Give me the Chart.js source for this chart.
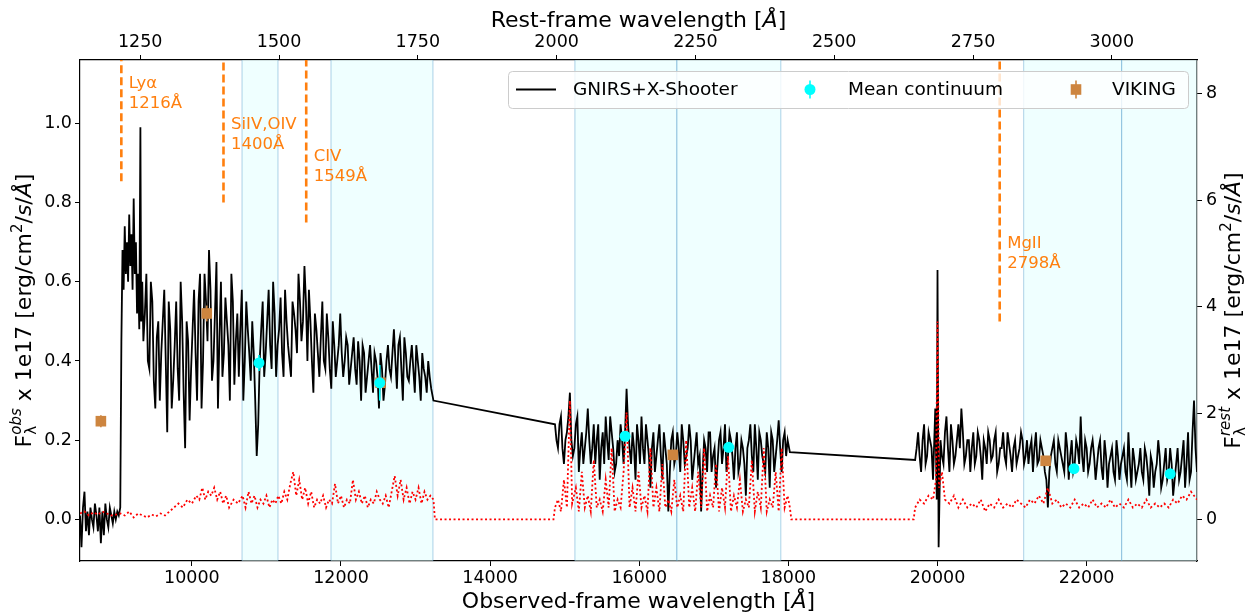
<!DOCTYPE html>
<html>
<head>
<meta charset="utf-8">
<script src="https://cdn.jsdelivr.net/npm/chart.js@4/dist/chart.umd.min.js"></script>
<style>
  html, body { margin: 0; padding: 0; background: #fff; }
  #wrap { width: 1252px; height: 615px; }
</style>
</head>
<body>
<div id="wrap"><canvas id="chart" width="1252" height="615"></canvas></div>
<script>
const FONT = '"DejaVu Sans", sans-serif';
const Z1 = 7.446;            // 1 + z
const X_MIN = 8500, X_MAX = 23480;
const Y_MIN = -0.105, Y_MAX = 1.160;

// axis ticks
const obsTicks = [10000, 12000, 14000, 16000, 18000, 20000, 22000];
const restTicks = [1250, 1500, 1750, 2000, 2250, 2500, 2750, 3000];
const fluxTicks = [0, 0.2, 0.4, 0.6, 0.8, 1.0];
const restFluxTicks = [0, 2, 4, 6, 8];

// continuum windows (observed A)
const bandEdges = [[10673, 11155], [11866, 13233], [15137, 16504], [16504, 17898], [21155, 22469], [22469, 23700]];

// emission lines
const lineNames = ['Lyα', 'SiIV,OIV', 'CIV', 'MgII'];
const lineRest = [1216, 1400, 1549, 2798];
const lineTags = ['1216Å', '1400Å', '1549Å', '2798Å'];
const lineBottom = [0.854, 0.80, 0.75, 0.50];
const lineLabelY = [1.09, 0.985, 0.905, 0.685];

// mean continuum points
const contWave = [10900, 12520, 15810, 17200, 21830, 23120];
const contFlux = [0.395, 0.345, 0.210, 0.182, 0.128, 0.115];
const contErr = [0.02, 0.045, 0.012, 0.012, 0.01, 0.01];

// VIKING photometry
const vikWave = [8780, 10200, 12530, 16450, 21450];
const vikFlux = [0.248, 0.520, 0.345, 0.163, 0.148];
const vikErr = [0.015, 0.02, 0.01, 0.012, 0.01];

// spectrum (wavelength, flux) - X-Shooter VIS/NIR part
const specA = [
  [8500,0.01],[8520,-0.07],[8540,0.03],[8560,0.07],[8580,-0.03],[8600,0.02],[8620,-0.04],[8640,0.03],
  [8660,0.0],[8680,-0.02],[8700,0.04],[8720,0.01],[8740,-0.03],[8760,0.03],[8780,-0.06],[8800,0.02],
  [8820,-0.04],[8840,0.04],[8860,0.0],[8880,-0.02],[8900,0.03],[8920,0.01],[8940,-0.01],[8960,0.02],
  [8980,0.0],[9000,0.02],[9020,0.01],[9040,0.03],
  [9055,0.45],[9070,0.68],[9085,0.58],[9100,0.74],[9115,0.62],[9130,0.70],[9145,0.60],[9160,0.77],
  [9175,0.64],[9190,0.72],[9205,0.58],[9220,0.81],[9235,0.62],[9250,0.70],[9265,0.52],[9280,0.62],
  [9295,0.48],[9310,0.99],[9320,0.50],[9335,0.60],
  [9350,0.45],[9390,0.62],[9430,0.38],[9470,0.55],[9510,0.28],[9550,0.50],[9590,0.42],[9630,0.58],
  [9670,0.22],[9710,0.48],[9750,0.35],[9790,0.55],[9830,0.30],[9870,0.50],[9910,0.18],[9950,0.45],
  [9990,0.38],[10030,0.58],[10070,0.30],[10110,0.62],[10150,0.40],[10190,0.55],[10230,0.68],[10270,0.35],
  [10310,0.52],[10350,0.28],[10390,0.60],[10430,0.42],[10470,0.50],[10510,0.30],[10550,0.55],[10590,0.45],
  [10630,0.36],[10670,0.58],[10710,0.40],[10750,0.48],[10790,0.35],[10830,0.42],[10870,0.16],[10910,0.40],
  [10950,0.55],[10990,0.42],[11030,0.58],[11070,0.38],[11110,0.52],[11150,0.44],[11190,0.56],[11230,0.36],
  [11270,0.50],[11310,0.40],[11350,0.55],[11390,0.48],[11430,0.62],[11470,0.45],[11510,0.64],[11550,0.40],
  [11590,0.50],[11630,0.32],[11670,0.48],[11710,0.36],[11750,0.55],[11790,0.38],[11830,0.46],[11870,0.33],
  [11910,0.44],[11950,0.40],[11990,0.52],[12030,0.36],[12070,0.46],[12110,0.34],[12150,0.42],[12190,0.38],
  [12230,0.45],[12270,0.30],[12310,0.42],[12350,0.36],[12390,0.44],[12430,0.32],[12470,0.40],[12510,0.28],
  [12550,0.38],[12590,0.34],[12630,0.44],[12670,0.36],[12710,0.48],[12750,0.33],[12790,0.46],[12830,0.30],
  [12870,0.42],[12910,0.35],[12950,0.44],[12990,0.32],[13030,0.40],[13070,0.30],[13110,0.38],[13150,0.32],
  [13190,0.36],[13240,0.30]
];
// extra samples read between the ones above
const specAmid = [
  [9370,0.52],[9410,0.40],[9450,0.60],[9490,0.35],[9530,0.46],[9570,0.30],[9610,0.50],[9650,0.40],
  [9690,0.55],[9730,0.28],[9770,0.44],[9810,0.38],[9850,0.60],[9890,0.32],[9930,0.50],[9970,0.25],
  [10010,0.48],[10050,0.42],[10090,0.55],[10130,0.28],[10170,0.62],[10210,0.45],[10250,0.58],[10290,0.40],
  [10330,0.65],[10370,0.46],[10410,0.36],[10450,0.56],[10490,0.44],[10530,0.62],[10570,0.34],[10610,0.52],
  [10650,0.48],[10690,0.30],[10730,0.55],[10770,0.42],[10810,0.50],[10850,0.30],[10890,0.24],[10930,0.48],
  [10970,0.36],[11010,0.50],[11050,0.44],[11090,0.60],[11130,0.36],[11170,0.48],[11210,0.42],[11250,0.58],
  [11290,0.44],[11330,0.36],[11370,0.52],[11410,0.42],[11450,0.55],[11490,0.50],[11530,0.55],[11570,0.58],
  [11610,0.40],[11650,0.52],[11690,0.42],[11730,0.46],[11770,0.40],[11810,0.52],[11850,0.38],[11890,0.50],
  [11930,0.36],[11970,0.44],[12010,0.42],[12050,0.40],[12090,0.44],[12130,0.38],[12170,0.46],[12210,0.34],
  [12250,0.40],[12290,0.44],[12330,0.32],[12370,0.40],[12410,0.38],[12450,0.42],[12490,0.36],[12530,0.42],
  [12570,0.30],[12610,0.40],[12650,0.38],[12690,0.42],[12730,0.40],[12770,0.44],[12810,0.38],[12850,0.46],
  [12890,0.36],[12930,0.40],[12970,0.38],[13010,0.44],[13050,0.36],[13090,0.42],[13130,0.36],[13170,0.40],
  [13210,0.33]
];
// GNIRS H band
const specB = [
  [14870,0.24],[14910,0.18],[14950,0.26],[14990,0.14],[15030,0.22],[15070,0.32],[15110,0.16],[15150,0.24],
  [15190,0.12],[15230,0.22],[15270,0.18],[15310,0.28],[15350,0.14],[15390,0.24],[15430,0.20],[15470,0.10],
  [15510,0.22],[15550,0.26],[15590,0.15],[15630,0.22],[15670,0.12],[15710,0.20],[15750,0.24],[15790,0.14],
  [15830,0.33],[15870,0.18],[15910,0.22],[15950,0.10],[15990,0.20],[16030,0.26],[16070,0.14],[16110,0.20],
  [16150,0.08],[16190,0.22],[16230,0.16],[16270,0.24],[16310,0.10],[16350,0.18],[16390,0.02],[16430,0.20],
  [16470,0.14],[16510,0.22],[16550,0.12],[16590,0.20],[16630,0.16],[16670,0.24],[16710,0.10],[16750,0.18],
  [16790,0.14],[16830,0.02],[16870,0.20],[16910,0.12],[16950,0.22],[16990,0.16],[17030,0.08],[17070,0.20],
  [17110,0.14],[17150,0.24],[17190,0.16],[17230,0.20],[17270,0.10],[17310,0.22],[17350,0.14],[17390,0.18],
  [17430,0.06],[17470,0.20],[17510,0.16],[17550,0.24],[17590,0.10],[17630,0.20],[17670,0.14],[17710,0.22],
  [17750,0.08],[17790,0.20],[17830,0.16],[17870,0.25],[17910,0.12],[17950,0.22],[17990,0.20],[18020,0.17]
];
const specBmid = [
  [14890,0.20],[14930,0.24],[14970,0.18],[15010,0.20],[15050,0.26],[15090,0.20],[15130,0.18],[15170,0.26],
  [15210,0.18],[15250,0.14],[15290,0.22],[15330,0.20],[15370,0.18],[15410,0.14],[15450,0.24],[15490,0.18],
  [15530,0.14],[15570,0.20],[15610,0.26],[15650,0.18],[15690,0.14],[15730,0.16],[15770,0.20],[15810,0.22],
  [15850,0.24],[15890,0.14],[15930,0.18],[15970,0.24],[16010,0.14],[16050,0.18],[16090,0.24],[16130,0.16],
  [16170,0.18],[16210,0.12],[16250,0.20],[16290,0.16],[16330,0.22],[16370,0.14],[16410,0.12],[16450,0.22],
  [16490,0.16],[16530,0.18],[16570,0.24],[16610,0.14],[16650,0.18],[16690,0.20],[16730,0.14],[16770,0.22],
  [16810,0.16],[16850,0.12],[16890,0.18],[16930,0.22],[16970,0.12],[17010,0.18],[17050,0.14],[17090,0.22],
  [17130,0.18],[17170,0.12],[17210,0.22],[17250,0.16],[17290,0.18],[17330,0.12],[17370,0.20],[17410,0.14],
  [17450,0.18],[17490,0.24],[17530,0.12],[17570,0.18],[17610,0.22],[17650,0.16],[17690,0.12],[17730,0.18],
  [17770,0.22],[17810,0.12],[17850,0.20],[17890,0.18],[17930,0.20],[17970,0.16]
];
// GNIRS K band
const specC = [
  [19700,0.15],[19740,0.22],[19780,0.12],[19820,0.24],[19860,0.16],[19900,0.20],[19940,0.10],[19970,0.28],
  [19990,0.05],[20000,0.63],[20015,-0.07],[20040,0.20],[20080,0.14],[20120,0.26],[20160,0.12],[20200,0.20],
  [20240,0.16],[20280,0.24],[20320,0.28],[20360,0.14],[20400,0.20],[20440,0.12],[20480,0.22],[20520,0.16],
  [20560,0.20],[20600,0.10],[20640,0.18],[20680,0.22],[20720,0.15],[20760,0.20],[20800,0.12],[20840,0.18],
  [20880,0.22],[20920,0.14],[20960,0.19],[21000,0.12],[21040,0.20],[21080,0.16],[21120,0.22],[21160,0.14],
  [21200,0.20],[21240,0.18],[21280,0.12],[21320,0.22],[21360,0.15],[21400,0.18],[21440,0.12],[21480,0.03],
  [21520,0.16],[21560,0.20],[21600,0.12],[21640,0.18],[21680,0.14],[21720,0.22],[21760,0.10],[21800,0.20],
  [21840,0.14],[21880,0.18],[21920,0.26],[21960,0.12],[22000,0.18],[22040,0.14],[22080,0.20],[22120,0.10],
  [22160,0.18],[22200,0.13],[22240,0.20],[22280,0.08],[22320,0.16],[22360,0.12],[22400,0.20],[22440,0.10],
  [22480,0.16],[22520,0.12],[22560,0.22],[22600,0.08],[22640,0.15],[22680,0.12],[22720,0.18],[22760,0.10],
  [22800,0.16],[22840,0.06],[22880,0.14],[22920,0.12],[22960,0.20],[23000,0.08],[23040,0.14],[23080,0.10],
  [23120,0.18],[23160,0.06],[23200,0.14],[23240,0.10],[23280,0.16],[23320,0.08],[23360,0.22],[23400,0.12],
  [23440,0.30],[23480,0.12]
];
const specCmid = [
  [19720,0.18],[19760,0.16],[19800,0.20],[19840,0.14],[19880,0.22],[19920,0.18],
  [20060,0.16],[20100,0.22],[20140,0.18],[20180,0.24],[20220,0.14],[20260,0.20],[20300,0.18],[20340,0.22],
  [20380,0.16],[20420,0.20],[20460,0.18],[20500,0.14],[20540,0.22],[20580,0.16],[20620,0.20],[20660,0.14],
  [20700,0.20],[20740,0.16],[20780,0.22],[20820,0.14],[20860,0.18],[20900,0.16],[20940,0.22],[20980,0.16],
  [21020,0.18],[21060,0.14],[21100,0.18],[21140,0.20],[21180,0.16],[21220,0.14],[21260,0.20],[21300,0.18],
  [21340,0.14],[21380,0.20],[21420,0.16],[21460,0.10],[21500,0.12],[21540,0.18],[21580,0.14],[21620,0.20],
  [21660,0.16],[21700,0.12],[21740,0.18],[21780,0.16],[21820,0.12],[21860,0.20],[21900,0.14],[21940,0.16],
  [21980,0.20],[22020,0.12],[22060,0.18],[22100,0.16],[22140,0.14],[22180,0.20],[22220,0.10],[22260,0.16],
  [22300,0.14],[22340,0.18],[22380,0.10],[22420,0.16],[22460,0.14],[22500,0.18],[22540,0.10],[22580,0.14],
  [22620,0.18],[22660,0.10],[22700,0.14],[22740,0.12],[22780,0.18],[22820,0.12],[22860,0.16],[22900,0.08],
  [22940,0.14],[22980,0.16],[23020,0.10],[23060,0.18],[23100,0.12],[23140,0.14],[23180,0.10],[23220,0.18],
  [23260,0.12],[23300,0.20],[23340,0.14],[23380,0.10],[23420,0.22],[23460,0.18]
];

// flux error (wavelength, sigma)
const errA = [
  [8500,0.015],[8560,0.02],[8620,0.01],[8680,0.018],[8740,0.012],[8800,0.02],[8860,0.015],[8920,0.01],
  [8980,0.012],[9040,0.015],[9100,0.01],[9160,0.02],[9220,0.005],[9280,0.015],[9340,0.01],[9400,0.005],
  [9460,0.012],[9520,0.008],[9580,0.015],[9640,0.01],[9700,0.02],[9760,0.03],[9820,0.04],[9880,0.03],
  [9940,0.05],[10000,0.04],[10060,0.06],[10100,0.05],[10140,0.08],[10180,0.05],[10220,0.07],[10260,0.06],
  [10300,0.08],[10340,0.05],[10380,0.07],[10420,0.04],[10460,0.06],[10500,0.03],[10560,0.05],[10620,0.04],
  [10680,0.06],[10720,0.03],[10760,0.07],[10800,0.04],[10840,0.06],[10880,0.03],[10920,0.05],[10960,0.04],
  [11000,0.06],[11040,0.03],[11080,0.05],[11120,0.04],[11160,0.06],[11200,0.04],[11240,0.07],[11280,0.05],
  [11320,0.09],[11360,0.12],[11400,0.06],[11440,0.10],[11480,0.05],[11520,0.08],[11560,0.04],[11600,0.07],
  [11640,0.03],[11680,0.05],[11720,0.04],[11760,0.06],[11800,0.03],[11840,0.05],[11880,0.04],[11920,0.09],
  [11960,0.04],[12000,0.06],[12040,0.03],[12080,0.05],[12120,0.04],[12160,0.10],[12200,0.05],[12240,0.07],
  [12280,0.04],[12320,0.06],[12360,0.03],[12400,0.05],[12440,0.04],[12480,0.07],[12520,0.05],[12560,0.04],
  [12600,0.06],[12640,0.03],[12680,0.07],[12720,0.11],[12760,0.06],[12800,0.10],[12840,0.05],[12880,0.08],
  [12920,0.04],[12960,0.07],[13000,0.05],[13040,0.08],[13080,0.04],[13120,0.07],[13160,0.05],[13200,0.06],
  [13240,0.05],[13260,0.0],[14850,0.0]
];
const errB = [
  [14870,0.03],[14910,0.05],[14950,0.02],[14990,0.10],[15030,0.03],[15070,0.30],[15100,0.04],[15150,0.08],
  [15190,0.02],[15230,0.12],[15270,0.03],[15310,0.06],[15350,0.02],[15390,0.15],[15430,0.03],[15470,0.05],
  [15510,0.02],[15550,0.10],[15590,0.03],[15630,0.18],[15670,0.02],[15710,0.05],[15750,0.03],[15790,0.12],
  [15830,0.27],[15870,0.03],[15910,0.08],[15950,0.02],[15990,0.12],[16030,0.03],[16070,0.06],[16110,0.02],
  [16150,0.18],[16190,0.03],[16230,0.08],[16270,0.02],[16310,0.14],[16350,0.03],[16390,0.05],[16430,0.02],
  [16470,0.10],[16510,0.03],[16550,0.06],[16590,0.02],[16630,0.20],[16670,0.03],[16710,0.08],[16750,0.02],
  [16790,0.12],[16830,0.03],[16870,0.18],[16910,0.02],[16950,0.06],[16990,0.03],[17030,0.14],[17070,0.02],
  [17110,0.08],[17150,0.03],[17190,0.16],[17230,0.02],[17270,0.06],[17310,0.03],[17350,0.10],[17390,0.02],
  [17430,0.05],[17470,0.03],[17510,0.15],[17550,0.02],[17590,0.07],[17630,0.03],[17670,0.18],[17710,0.02],
  [17750,0.05],[17790,0.03],[17830,0.12],[17870,0.02],[17910,0.18],[17950,0.03],[17990,0.06],[18020,0.03],
  [18040,0.0],[19680,0.0]
];
const errC = [
  [19700,0.03],[19760,0.05],[19820,0.04],[19880,0.06],[19940,0.05],[19980,0.10],[20000,0.50],[20020,0.08],
  [20060,0.12],[20100,0.05],[20160,0.04],[20220,0.06],[20280,0.03],[20340,0.05],[20400,0.03],[20460,0.04],
  [20520,0.03],[20580,0.05],[20640,0.02],[20700,0.04],[20760,0.03],[20820,0.05],[20880,0.03],[20940,0.04],
  [21000,0.03],[21060,0.05],[21120,0.04],[21180,0.03],[21240,0.05],[21300,0.04],[21360,0.06],[21420,0.04],
  [21480,0.08],[21540,0.04],[21600,0.05],[21660,0.03],[21720,0.04],[21780,0.03],[21840,0.05],[21900,0.03],
  [21960,0.04],[22020,0.03],[22080,0.05],[22140,0.03],[22200,0.04],[22260,0.03],[22320,0.05],[22380,0.03],
  [22440,0.04],[22500,0.03],[22560,0.05],[22620,0.03],[22680,0.04],[22740,0.03],[22800,0.05],[22860,0.03],
  [22920,0.04],[22980,0.03],[23040,0.04],[23100,0.03],[23160,0.05],[23220,0.04],[23280,0.06],[23340,0.05],
  [23400,0.07],[23480,0.05]
];

const toXY = arr => arr.map(p => ({x: p[0], y: p[1]}));
const byWave = (a, b) => a[0] - b[0];
const ORANGE = '#ff7f0e', CYAN = '#00ffff', PERU = '#cd853f';

// ---------- datasets ----------
let datasets = [];
datasets.push({
  label: 'GNIRS+X-Shooter',
  data: toXY(specA.concat(specAmid, specB, specBmid, specC, specCmid).sort(byWave)),
  borderColor: '#000', borderWidth: 1.8, pointRadius: 0, tension: 0, order: 3
});
datasets.push({
  label: 'error', data: toXY(errA.concat(errB, errC)),
  borderColor: '#ff0000', borderWidth: 1.8, borderDash: [2, 2.5], pointRadius: 0, tension: 0, order: 2
});
datasets.push({
  label: 'Mean continuum', data: contWave.map((w, i) => ({x: w, y: contFlux[i]})), errs: contErr,
  showLine: false, pointStyle: 'circle', pointRadius: 5.5, backgroundColor: CYAN, borderColor: CYAN,
  borderWidth: 0, order: 0
});
datasets.push({
  label: 'VIKING', data: vikWave.map((w, i) => ({x: w, y: vikFlux[i]})), errs: vikErr,
  showLine: false, pointStyle: 'rect', pointRadius: 7.5, backgroundColor: PERU, borderColor: PERU,
  borderWidth: 0, order: 1
});
for (let i = 0; i < lineRest.length; i++) {
  datasets.push({
    label: lineNames[i],
    data: [{x: lineRest[i] * Z1, y: lineBottom[i]}, {x: lineRest[i] * Z1, y: Y_MAX + 0.2}],
    borderColor: ORANGE, borderWidth: 2.6, borderDash: [8, 4], pointRadius: 0, order: 4
  });
}

// ---------- helpers for mixed text ----------
function fontStr(p) { return (p.it ? 'italic ' : '') + p.size + 'px ' + FONT; }
function drawRich(ctx, parts, cx, cy, angle) {
  ctx.save();
  ctx.translate(cx, cy);
  ctx.rotate(angle);
  let x = 0, prevStart = 0, items = [];
  for (const p of parts) {
    ctx.font = fontStr(p);
    const w = ctx.measureText(p.t).width;
    let start;
    if (p.join) { start = prevStart; x = Math.max(x, start + w); }
    else { start = x; x += w; }
    items.push({p: p, start: start});
    prevStart = start;
  }
  const x0 = -x / 2;
  ctx.fillStyle = '#000';
  ctx.textAlign = 'left';
  ctx.textBaseline = 'alphabetic';
  for (const it of items) {
    ctx.font = fontStr(it.p);
    ctx.fillText(it.p.t, x0 + it.start, it.p.dy || 0);
  }
  ctx.restore();
}

function yLabelParts(tag) {
  return [
    {t: 'F', size: 22}, {t: 'λ', size: 15, dy: 5}, {t: tag, size: 15, dy: -10, it: true, join: true},
    {t: ' x 1e17 [erg/cm', size: 22}, {t: '2', size: 15, dy: -9}, {t: '/', size: 22},
    {t: 's', size: 22, it: true}, {t: '/', size: 22}, {t: 'Å', size: 22, it: true}, {t: ']', size: 22}
  ];
}

// ---------- plugins ----------
const bandPlugin = {
  id: 'bands',
  beforeDatasetsDraw(chart) {
    const {ctx, chartArea: a, scales} = chart;
    const xs = scales.x;
    ctx.save();
    ctx.beginPath();
    ctx.rect(a.left, a.top, a.right - a.left, a.bottom - a.top);
    ctx.clip();
    for (const [w0, w1] of bandEdges) {
      const p0 = xs.getPixelForValue(w0), p1 = xs.getPixelForValue(w1);
      ctx.fillStyle = 'rgba(224,255,255,0.5)';
      ctx.fillRect(p0, a.top, p1 - p0, a.bottom - a.top);
      ctx.strokeStyle = 'rgba(90,160,205,0.4)';
      ctx.lineWidth = 1.2;
      ctx.beginPath();
      ctx.moveTo(p0, a.top); ctx.lineTo(p0, a.bottom);
      ctx.moveTo(p1, a.top); ctx.lineTo(p1, a.bottom);
      ctx.stroke();
    }
    ctx.restore();
  },
  beforeDatasetDraw(chart, args) {
    const ds = chart.data.datasets[args.index];
    if (!ds.errs) return;
    const {ctx, scales} = chart;
    ctx.save();
    ctx.strokeStyle = ds.borderColor;
    ctx.lineWidth = 1.6;
    ds.data.forEach((d, i) => {
      const px = scales.x.getPixelForValue(d.x);
      ctx.beginPath();
      ctx.moveTo(px, scales.y.getPixelForValue(d.y - ds.errs[i]));
      ctx.lineTo(px, scales.y.getPixelForValue(d.y + ds.errs[i]));
      ctx.stroke();
    });
    ctx.restore();
  },
  afterDatasetsDraw(chart) {
    const {ctx, scales} = chart;
    ctx.save();
    ctx.fillStyle = ORANGE;
    ctx.font = '16.5px ' + FONT;
    ctx.textAlign = 'left';
    ctx.textBaseline = 'alphabetic';
    for (let i = 0; i < lineRest.length; i++) {
      const px = scales.x.getPixelForValue(lineRest[i] * Z1 + 100);
      const py = scales.y.getPixelForValue(lineLabelY[i]);
      ctx.fillText(lineNames[i], px, py);
      ctx.fillText(lineTags[i], px, py + 20);
    }
    ctx.restore();
  },
  afterDraw(chart) {
    const {ctx, chartArea: a} = chart;
    const cx = (a.left + a.right) / 2, cy = (a.top + a.bottom) / 2;
    // axis titles
    drawRich(ctx, [{t: 'Observed-frame wavelength [', size: 22}, {t: 'Å', size: 22, it: true}, {t: ']', size: 22}], cx, 608, 0);
    drawRich(ctx, [{t: 'Rest-frame wavelength [', size: 22}, {t: 'Å', size: 22, it: true}, {t: ']', size: 22}], cx, 27, 0);
    drawRich(ctx, yLabelParts('obs'), 31, cy, -Math.PI / 2);
    drawRich(ctx, yLabelParts('rest'), 1240, cy, -Math.PI / 2);

    // legend
    const L = {x0: 508, y0: 71, x1: 1188, y1: 108};
    const ly = (L.y0 + L.y1) / 2;
    ctx.save();
    ctx.fillStyle = 'rgba(255,255,255,0.8)';
    ctx.strokeStyle = '#cccccc';
    ctx.lineWidth = 1;
    ctx.beginPath();
    ctx.roundRect(L.x0 + 0.5, L.y0 + 0.5, L.x1 - L.x0, L.y1 - L.y0, 4);
    ctx.fill();
    ctx.stroke();
    ctx.strokeStyle = '#000';
    ctx.lineWidth = 2;
    ctx.beginPath(); ctx.moveTo(516, ly); ctx.lineTo(556, ly); ctx.stroke();
    ctx.strokeStyle = CYAN; ctx.lineWidth = 1.6;
    ctx.beginPath(); ctx.moveTo(810, ly - 9); ctx.lineTo(810, ly + 9); ctx.stroke();
    ctx.fillStyle = CYAN;
    ctx.beginPath(); ctx.arc(810, ly, 5.5, 0, Math.PI * 2); ctx.fill();
    ctx.strokeStyle = PERU;
    ctx.beginPath(); ctx.moveTo(1076, ly - 9); ctx.lineTo(1076, ly + 9); ctx.stroke();
    ctx.fillStyle = PERU;
    ctx.fillRect(1076 - 5.3, ly - 5.3, 10.6, 10.6);
    ctx.fillStyle = '#000';
    ctx.font = '18.5px ' + FONT;
    ctx.textAlign = 'left';
    ctx.textBaseline = 'middle';
    ctx.fillText('GNIRS+X-Shooter', 573, ly + 1);
    ctx.fillText('Mean continuum', 848, ly + 1);
    ctx.fillText('VIKING', 1112, ly + 1);
    ctx.restore();
  }
};

// ---------- scales ----------
function axisBase(extra) {
  return Object.assign({
    type: 'linear',
    grid: {drawOnChartArea: false, drawTicks: true, tickLength: 5, tickColor: '#000', tickWidth: 1},
    border: {display: true, color: '#000', width: 1.2},
    ticks: {font: {size: 17.5, family: FONT}, color: '#000', padding: 2, maxRotation: 0, autoSkip: false}
  }, extra);
}

const scales = {
  x: axisBase({position: 'bottom', min: X_MIN, max: X_MAX,
    afterBuildTicks: s => { s.ticks = obsTicks.map(v => ({value: v})); },
    afterFit: s => { s.height = 54; }}),
  xTop: axisBase({position: 'top', min: X_MIN / Z1, max: X_MAX / Z1,
    afterBuildTicks: s => { s.ticks = restTicks.map(v => ({value: v})); },
    afterFit: s => { s.height = 60; }}),
  y: axisBase({position: 'left', min: Y_MIN, max: Y_MAX,
    afterBuildTicks: s => { s.ticks = fluxTicks.map(v => ({value: v})); },
    afterFit: s => { s.width = 80; }}),
  yRight: axisBase({position: 'right', min: Y_MIN * Z1, max: Y_MAX * Z1,
    afterBuildTicks: s => { s.ticks = restFluxTicks.map(v => ({value: v})); },
    afterFit: s => { s.width = 55; }})
};
scales.x.ticks.callback = v => String(v);
scales.xTop.ticks.callback = v => String(v);
scales.y.ticks = Object.assign({}, scales.y.ticks, {callback: v => v.toFixed(1), padding: 3});
scales.yRight.ticks = Object.assign({}, scales.yRight.ticks, {callback: v => String(v), padding: 4});

new Chart(document.getElementById('chart'), {
  type: 'line',
  data: {datasets: datasets},
  options: {
    responsive: false,
    animation: false,
    devicePixelRatio: 1,
    layout: {padding: 0},
    parsing: false,
    normalized: true,
    plugins: {legend: {display: false}, tooltip: {enabled: false}},
    scales: scales
  },
  plugins: [bandPlugin]
});
</script>
</body>
</html>
